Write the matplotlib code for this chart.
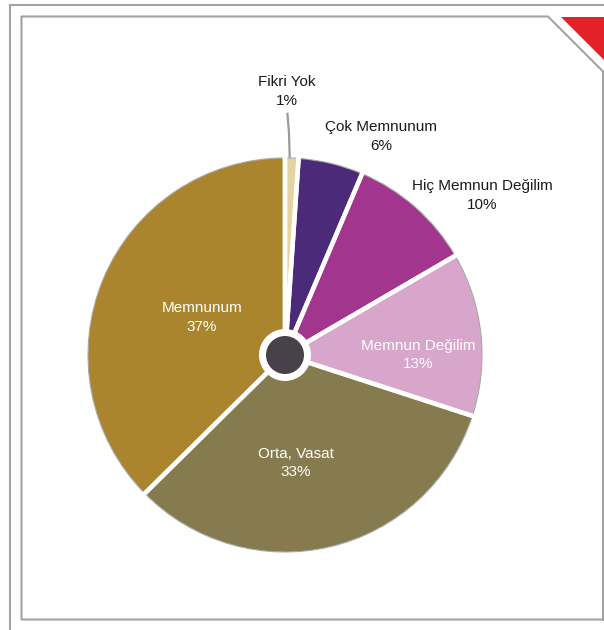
import matplotlib.pyplot as plt
from matplotlib.patches import Circle, Polygon
from matplotlib.lines import Line2D

plt.rcParams['font.family'] = ['Liberation Sans', 'DejaVu Sans']

labels = ['Fikri Yok', 'Çok Memnunum', 'Hiç Memnun Değilim', 'Memnun Değilim', 'Orta, Vasat', 'Memnunum']
values = [1.1, 5.3, 10.2, 13.4, 32.6, 37.4]
pct_text = ['1%', '6%', '10%', '13%', '33%', '37%']
colors = ['#e6d3a3', '#4b2a79', '#a2368f', '#d8a5cb', '#867b4e', '#ab852e']
inside = [False, False, False, True, True, True]

# label centres in data units (pie radius = 1)
label_pos = [(0.008, 1.338), (0.487, 1.109), (1.0, 0.81),
             (0.675, 0.0), (0.056, -0.548), (-0.421, 0.19)]

W, H = 604, 630
R = 197.0
cx, cy = 285, 355

fig = plt.figure(figsize=(W / 100, H / 100), dpi=100)
fig.patch.set_facecolor('white')

def px(x, y):
    return (x / W, 1 - y / H)

# frames
frame_col = '#a3a3a3'
fig.add_artist(Line2D([px(9.5, 0)[0], px(9.5, 0)[0]], [px(0, 4.5)[1], 0],
                      color=frame_col, lw=1.5, transform=fig.transFigure))
fig.add_artist(Line2D([px(9.5, 0)[0], 1], [px(0, 4.5)[1], px(0, 4.5)[1]],
                      color=frame_col, lw=1.5, transform=fig.transFigure))
inner = [px(603, 619.5), px(21.5, 619.5), px(21.5, 16.5), px(548, 16.5),
         px(603, 71.5), px(603, 619.5)]
fig.add_artist(Line2D([p[0] for p in inner], [p[1] for p in inner],
                      color=frame_col, lw=1.5, transform=fig.transFigure))
fig.add_artist(Polygon([px(561, 16.5), px(604, 16.5), px(604, 59.5)], closed=True,
                       facecolor='#e32228', edgecolor='none', transform=fig.transFigure))

ax = fig.add_axes([0, 0, 1, 1])
ax.set_facecolor('none')

ax.pie(values, colors=colors, startangle=90, counterclock=False, radius=1,
       wedgeprops=dict(edgecolor='#a8a8a8', linewidth=0.8))
# white separators between slices
ax.pie(values, colors=['none'] * len(values), startangle=90, counterclock=False,
       radius=1.03, wedgeprops=dict(edgecolor='white', linewidth=3.2, facecolor='none'))

ax.add_patch(Circle((0, 0), 26 / R, facecolor='white', edgecolor='none', zorder=5))
ax.add_patch(Circle((0, 0), 19 / R, facecolor='#47424a', edgecolor='none', zorder=6))

# leader line for the small slice
ax.plot([0.024, 0.02, 0.012], [1.0, 1.13, 1.23], color='#9a9a9a', lw=1.6,
        solid_capstyle='butt', zorder=4)

for lab, pct, (x, y), ins in zip(labels, pct_text, label_pos, inside):
    ax.text(x, y, f'{lab}\n{pct}', ha='center', va='center', fontsize=11,
            color='white' if ins else '#1a1a1a', linespacing=1.4, zorder=7)

ax.set_xlim(-cx / R, (W - cx) / R)
ax.set_ylim(-(H - cy) / R, cy / R)
ax.set_aspect('equal')
ax.axis('off')

fig.savefig('out.png', dpi=100, facecolor='white')
